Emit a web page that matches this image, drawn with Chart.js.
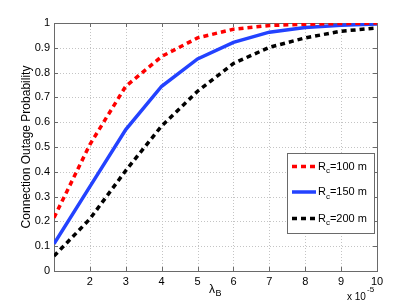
<!DOCTYPE html>
<html>
<head>
<meta charset="utf-8">
<script src="https://cdn.jsdelivr.net/npm/chart.js@4.4.0/dist/chart.umd.min.js"></script>
<style>
  html, body { margin: 0; padding: 0; background: #fff; }
  #wrap { width: 415px; height: 305px; }
</style>
</head>
<body>
<div id="wrap"><canvas id="outageChart" width="415" height="305"></canvas></div>
<script>
// Connection outage probability vs lambda_B (x 10^-5)
const lambdaB = [1, 2, 3, 4, 5, 6, 7, 8, 9, 10];
const rc100 = [0.215, 0.51, 0.745, 0.865, 0.94, 0.975, 0.99, 0.995, 0.998, 1.0];
const rc150 = [0.11, 0.34, 0.57, 0.745, 0.855, 0.922, 0.963, 0.982, 0.991, 0.996];
const rc200 = [0.06, 0.21, 0.405, 0.585, 0.725, 0.837, 0.902, 0.94, 0.967, 0.98];
const xTicks = [2, 3, 4, 5, 6, 7, 8, 9, 10];
const yTicks = [0, 0.1, 0.2, 0.3, 0.4, 0.5, 0.6, 0.7, 0.8, 0.9, 1];
const seriesNames = ['100 m', '150 m', '200 m'];

const FONT = 'Liberation Sans, Arial, sans-serif';
const frameColor = '#6a6a6a';
const gridColor = '#c4c4c4';

function toPoints(ys) {
  return ys.map((y, i) => ({ x: lambdaB[i], y: y }));
}

// grid, box and inward ticks, MATLAB style
const axesBox = {
  id: 'axesBox',
  beforeDatasetsDraw(chart) {
    const ctx = chart.ctx;
    const a = chart.chartArea;
    const xs = chart.scales.x, ys = chart.scales.y;
    ctx.save();
    ctx.lineWidth = 1;
    ctx.strokeStyle = gridColor;
    ctx.setLineDash([1, 2]);
    xTicks.forEach(v => {
      const px = Math.round(xs.getPixelForValue(v)) + 0.5;
      ctx.beginPath(); ctx.moveTo(px, a.top); ctx.lineTo(px, a.bottom); ctx.stroke();
    });
    yTicks.forEach(v => {
      const py = Math.round(ys.getPixelForValue(v)) + 0.5;
      ctx.beginPath(); ctx.moveTo(a.left, py); ctx.lineTo(a.right, py); ctx.stroke();
    });
    ctx.setLineDash([]);
    ctx.strokeStyle = frameColor;
    xTicks.forEach(v => {
      const px = Math.round(xs.getPixelForValue(v)) + 0.5;
      ctx.beginPath();
      ctx.moveTo(px, a.bottom); ctx.lineTo(px, a.bottom - 4);
      ctx.moveTo(px, a.top); ctx.lineTo(px, a.top + 4);
      ctx.stroke();
    });
    yTicks.forEach(v => {
      const py = Math.round(ys.getPixelForValue(v)) + 0.5;
      ctx.beginPath();
      ctx.moveTo(a.left, py); ctx.lineTo(a.left + 4, py);
      ctx.moveTo(a.right, py); ctx.lineTo(a.right - 4, py);
      ctx.stroke();
    });
    ctx.strokeRect(Math.round(a.left) + 0.5, Math.round(a.top) + 0.5,
      Math.round(a.right - a.left), Math.round(a.bottom - a.top));
    ctx.restore();
  },
  afterDraw(chart) {
    const ctx = chart.ctx;
    const a = chart.chartArea;
    ctx.save();
    ctx.fillStyle = '#000';
    // y title
    ctx.font = '12px ' + FONT;
    ctx.textAlign = 'center';
    ctx.textBaseline = 'middle';
    ctx.save();
    ctx.translate(27, (a.top + a.bottom) / 2);
    ctx.rotate(-Math.PI / 2);
    ctx.fillText('Connection Outage Probability', 0, 0);
    ctx.restore();
    // x title: lambda_B
    ctx.textAlign = 'left';
    ctx.font = '12px ' + FONT;
    ctx.fillText('λ', 209, 290);
    ctx.font = '9px ' + FONT;
    ctx.fillText('B', 215.5, 294);
    // exponent label
    ctx.font = '10px ' + FONT;
    ctx.fillText('x 10', 347, 297);
    ctx.font = '8px ' + FONT;
    ctx.fillText('-5', 367, 290);

    // legend
    const lx = 287.5, ly = 153.5, lw = 87, lh = 80;
    ctx.fillStyle = '#fff';
    ctx.fillRect(lx, ly, lw, lh);
    ctx.strokeStyle = frameColor;
    ctx.lineWidth = 1;
    ctx.strokeRect(lx, ly, lw, lh);
    const rows = [166.5, 192, 218.5];
    chart.data.datasets.forEach((ds, i) => {
      const y = rows[i];
      ctx.strokeStyle = ds.borderColor;
      ctx.lineWidth = ds.borderWidth;
      ctx.setLineDash(ds.borderDash || []);
      ctx.beginPath(); ctx.moveTo(292, y); ctx.lineTo(316, y); ctx.stroke();
      ctx.setLineDash([]);
      ctx.fillStyle = '#000';
      ctx.textBaseline = 'middle';
      ctx.font = '11px ' + FONT;
      ctx.fillText('R', 318, y);
      const rw = ctx.measureText('R').width;
      ctx.font = '8px ' + FONT;
      ctx.fillText('c', 318 + rw, y + 4.5);
      const cw = ctx.measureText('c').width;
      ctx.font = '11px ' + FONT;
      ctx.fillText('=' + seriesNames[i], 318 + rw + cw, y);
    });
    ctx.restore();
  }
};

const chart = new Chart(document.getElementById('outageChart'), {
  type: 'line',
  data: {
    datasets: [{
      label: 'Rc=100 m',
      data: toPoints(rc100),
      borderColor: '#ff0000',
      borderWidth: 3.5,
      borderDash: [5, 4],
      pointRadius: 0,
      tension: 0,
      fill: false
    }, {
      label: 'Rc=150 m',
      data: toPoints(rc150),
      borderColor: '#2342ff',
      borderWidth: 3.5,
      pointRadius: 0,
      tension: 0,
      fill: false
    }, {
      label: 'Rc=200 m',
      data: toPoints(rc200),
      borderColor: '#000000',
      borderWidth: 3.5,
      borderDash: [5, 4],
      pointRadius: 0,
      tension: 0,
      fill: false
    }]
  },
  options: {
    responsive: false,
    animation: false,
    layout: { padding: { top: 23, right: 38, left: 0, bottom: 0 } },
    plugins: { legend: { display: false }, tooltip: { enabled: false } },
    scales: {
      x: {
        type: 'linear',
        min: 1, max: 10,
        afterFit: s => { s.height = 34; },
        afterBuildTicks: s => { s.ticks = xTicks.map(v => ({ value: v })); },
        grid: { display: false, drawTicks: false },
        border: { display: false },
        ticks: { color: '#000', font: { family: FONT, size: 11 }, padding: 4, maxRotation: 0 }
      },
      y: {
        min: 0, max: 1,
        afterFit: s => { s.width = 54; },
        afterBuildTicks: s => { s.ticks = yTicks.map(v => ({ value: v })); },
        grid: { display: false, drawTicks: false },
        border: { display: false },
        ticks: { color: '#000', font: { family: FONT, size: 11 }, padding: 4,
          callback: v => String(Math.round(v * 10) / 10) }
      }
    }
  },
  plugins: [axesBox]
});
</script>
</body>
</html>
